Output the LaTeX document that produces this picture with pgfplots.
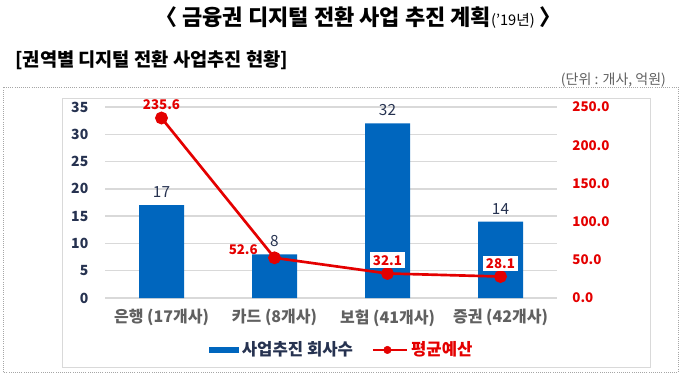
\documentclass[border=0pt]{standalone}
\usepackage{fontspec}
\setmainfont{Noto Sans CJK KR}
\usepackage{pgfplots}
\pgfplotsset{compat=1.18}
\definecolor{barblue}{RGB}{0,102,190}
\definecolor{navy}{RGB}{38,50,80}
\definecolor{lred}{RGB}{228,0,0}
\definecolor{catgray}{RGB}{96,96,96}
\definecolor{gridgray}{RGB}{217,217,217}
\begin{document}
\begin{tikzpicture}[x=1pt,y=1pt]
\useasboundingbox (0,0) rectangle (510,287.25);
\node[font=\bfseries\fontsize{16.5}{19}\selectfont] at (269,273.75) {〈 금융권 디지털 전환 사업 추진 계획{\mdseries\fontsize{11}{13}\selectfont('19년)} 〉};
\node[anchor=west, font=\bfseries\fontsize{14}{16}\selectfont] at (8,242.25) {[권역별 디지털 전환 사업추진 현황]};
\node[anchor=east, font=\fontsize{10.5}{12}\selectfont, text=catgray] at (503,227.25) {(단위 : 개사, 억원)};
\draw[gray!70, densely dotted, line width=0.6pt] (2.25,8.25) rectangle (508.5,222);
\draw[gridgray, line width=0.6pt] (46.5,12) rectangle (487.5,213.75);
\begin{axis}[
  at={(78.75pt,63.75pt)}, anchor=south west, scale only axis,
  width=339pt, height=143.25pt,
  xmin=-0.5, xmax=3.5, ymin=0, ymax=35,
  ytick={0,5,...,35}, xtick={0,1,2,3},
  xticklabels={은행 (17개사), 카드 (8개사), 보험 (41개사), 증권 (42개사)},
  axis line style={draw=none}, major tick length=0pt,
  ymajorgrids, grid style={color=gridgray, line width=1.1pt},
  /pgf/number format/assume math mode=true,
  yticklabel style={font=\bfseries\fontsize{10.5}{12}\selectfont, text=navy, xshift=-9pt},
  xticklabel style={font=\bfseries\fontsize{12}{14}\selectfont, text=catgray, yshift=-5pt},
  legend columns=2,
  legend style={draw=none, fill=none, at={(0.524,-0.272)}, anchor=center,
    font=\bfseries\fontsize{12.5}{14}\selectfont, /tikz/every even column/.append style={column sep=12pt}},
]
\addplot[ybar, bar width=33.75pt, fill=barblue, draw=none,
  nodes near coords, point meta=y,
  every node near coord/.append style={font=\fontsize{11.5}{13}\selectfont, text=navy, yshift=2pt},
  legend image code/.code={\fill[barblue] (0pt,-2.3pt) rectangle (23pt,2.3pt);}]
  coordinates {(0,17) (1,8) (2,32) (3,14)};
\addlegendentry{\textcolor{navy}{사업추진 회사수}}
\addlegendimage{legend image code/.code={\draw[lred, line width=1.6pt] (0pt,0pt) -- (26pt,0pt); \fill[lred] (11pt,0pt) circle (2.8pt);}}
\addlegendentry{\textcolor{lred}{평균예산}}
\end{axis}
\begin{axis}[
  at={(78.75pt,63.75pt)}, anchor=south west, scale only axis,
  width=339pt, height=143.25pt,
  xmin=-0.5, xmax=3.5, ymin=0, ymax=250,
  ytick={0,50,...,250},
  axis y line*=right, axis x line=none,
  axis line style={draw=none}, major tick length=0pt,
  /pgf/number format/.cd, fixed, fixed zerofill, precision=1, assume math mode=true, /pgfplots/.cd,
  yticklabel style={font=\bfseries\fontsize{10}{12}\selectfont, text=lred, xshift=8pt},
  clip=false,
]
\addplot[lred, line width=2pt, mark=*, mark size=3.8pt]
  coordinates {(0,235.6) (1,52.6) (2,32.1) (3,28.1)};
\addplot[draw=none, mark=none, nodes near coords, point meta=y,
  every node near coord/.append style={font=\bfseries\fontsize{10}{12}\selectfont, text=lred, anchor=south, yshift=3pt}]
  coordinates {(0,235.6)};
\addplot[draw=none, mark=none, nodes near coords, point meta=y,
  every node near coord/.append style={font=\bfseries\fontsize{10}{12}\selectfont, text=lred, anchor=east, xshift=-9pt, yshift=6pt}]
  coordinates {(1,52.6)};
\addplot[draw=none, mark=none, nodes near coords, point meta=y,
  every node near coord/.append style={font=\bfseries\fontsize{10}{12}\selectfont, text=lred, anchor=south, fill=white, inner sep=2pt, yshift=4pt}]
  coordinates {(2,32.1) (3,28.1)};
\end{axis}
\end{tikzpicture}
\end{document}
